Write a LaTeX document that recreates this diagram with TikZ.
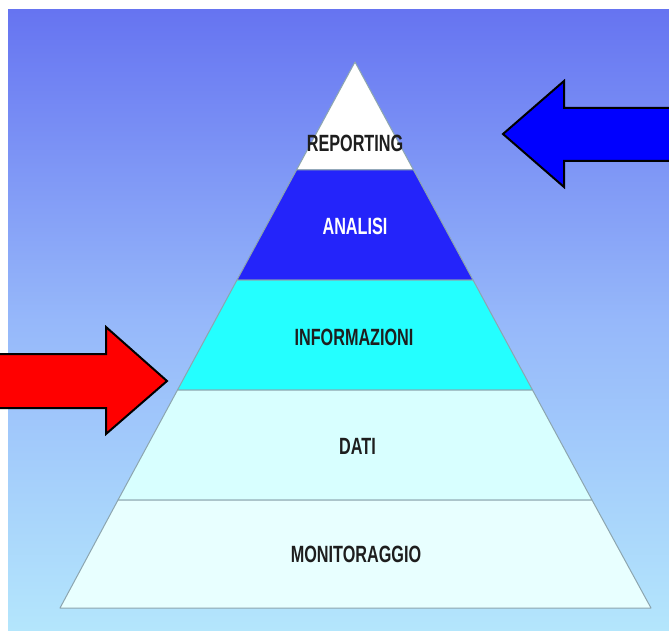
\documentclass[tikz,border=0pt]{standalone}
\usepackage{fontspec}
\newfontfamily\labfont{Liberation Sans}
\definecolor{bgtop}{RGB}{102,116,241}
\definecolor{bgmid}{RGB}{150,184,250}
\definecolor{bgbot}{RGB}{180,230,252}
\definecolor{lvA}{RGB}{255,255,255}
\definecolor{lvB}{RGB}{36,36,250}
\definecolor{lvC}{RGB}{36,255,255}
\definecolor{lvD}{RGB}{216,255,255}
\definecolor{lvE}{RGB}{232,255,255}
\definecolor{edgegray}{RGB}{140,165,175}
\definecolor{labdark}{RGB}{30,30,30}
\tikzset{
  layer/.style={draw=edgegray, line width=1pt, line join=round},
  lab/.style={font=\labfont\bfseries\fontsize{23.5}{23.5}\selectfont, text=labdark,
              inner sep=0pt, xscale=0.69, transform shape},
  bigarrow/.style={draw=black, line width=2pt, line join=miter},
}
\begin{document}
\begin{tikzpicture}[x=1pt, y=-1pt]
  \useasboundingbox (0,0) rectangle (669,631);
  \clip (0,0) rectangle (669,631);
  % backdrop
  \fill[white] (0,0) rectangle (669,631);
  \shade[top color=bgtop, bottom color=bgbot, middle color=bgmid] (8,10) rectangle (670,632);
  % pyramid levels, apex (355,62), base y=608
  \coordinate (apex) at (355,62);
  \path[layer, fill=lvA] (apex) -- (413.5,170) -- (296.5,170) -- cycle;
  \path[layer, fill=lvB] (296.5,170) -- (413.5,170) -- (473,280) -- (237,280) -- cycle;
  \path[layer, fill=lvC] (237,280) -- (473,280) -- (532.5,390) -- (177.5,390) -- cycle;
  \path[layer, fill=lvD] (177.5,390) -- (532.5,390) -- (592,500) -- (118,500) -- cycle;
  \path[layer, fill=lvE] (118,500) -- (592,500) -- (651,608) -- (60,608) -- cycle;
  % level labels
  \node[lab] (reporting) at (355,143.5) {REPORTING};
  \node[lab, text=white] (analisi) at (355,226) {ANALISI};
  \node[lab] (informazioni) at (354,337) {INFORMAZIONI};
  \node[lab] (dati) at (357.5,446) {DATI};
  \node[lab] (monitoraggio) at (356,554) {MONITORAGGIO};
  % block arrows
  \draw[bigarrow, fill=red] (-6,354) -- (106,354) -- (106,327) -- (167,381)
       -- (106,434) -- (106,408) -- (-6,408) -- cycle;
  \draw[bigarrow, fill=blue] (676,108) -- (564,108) -- (564,81) -- (503,134)
       -- (564,187) -- (564,161) -- (676,161) -- cycle;
\end{tikzpicture}
\end{document}
